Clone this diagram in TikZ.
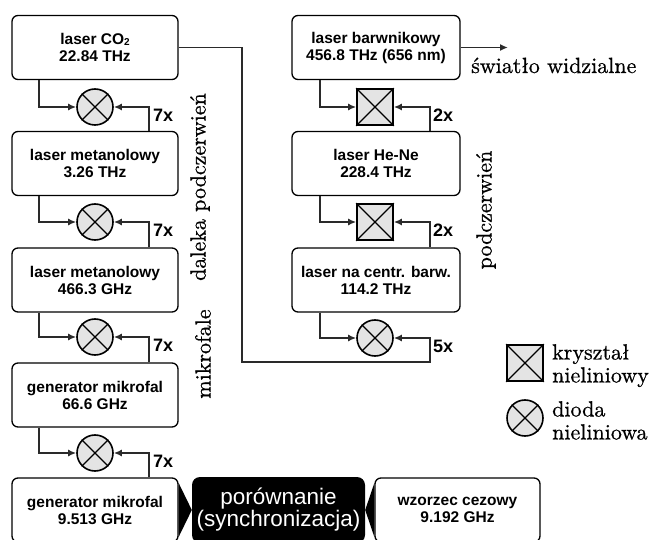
\documentclass[tikz,border=0pt]{standalone}
\usepackage{fontspec}
\setsansfont{Liberation Sans}
\newfontfamily\serifx{lmroman10-regular}[Extension=.otf,FakeBold=0.7]
\usetikzlibrary{calc,arrows.meta}
\definecolor{ln}{HTML}{2A2A2A}
\definecolor{mixfill}{HTML}{E4E4E4}
\tikzset{
  box/.style={draw=black, line width=1.3pt, rounded corners=6pt, minimum width=166pt, minimum height=64pt, align=center, inner sep=0pt, font=\sffamily\bfseries\fontsize{15.5}{17}\selectfont},
  conn/.style={draw=ln, line width=1.8pt, -{Latex[length=8pt,width=7pt]}},
  diode/.style={circle, draw=black, fill=mixfill, line width=1.6pt, minimum size=36pt, inner sep=0pt},
  crystal/.style={rectangle, draw=black, fill=mixfill, line width=1.6pt, minimum size=36pt, inner sep=0pt},
  mult/.style={font=\sffamily\bfseries\fontsize{18}{18}\selectfont, inner sep=0pt, anchor=west},
  serif/.style={font=\serifx\fontsize{22}{23}\selectfont, inner sep=0pt},
  crossline/.style={line width=1.4pt, draw=black},
}
\begin{document}
\begin{tikzpicture}[x=1pt,y=-1pt]
\useasboundingbox (0,0) rectangle (651,540);
\clip (0,0) rectangle (651,540);
% left column boxes
\node[box] (L1) at (95,47.5) {laser CO\raisebox{-0.5pt}{\fontsize{10}{10}\selectfont 2}\\22.84 THz};
\node[box] (L2) at (95,163.5) {laser metanolowy\\3.26 THz};
\node[box] (L3) at (95,280) {laser metanolowy\\466.3 GHz};
\node[box] (L4) at (95,395) {generator mikrofal\\66.6 GHz};
\node[box] (L5) at (95,510) {generator mikrofal\\9.513 GHz};
% right column boxes
\node[box, minimum width=168pt] (R1) at (376,47.5) {laser barwnikowy\\456.8 THz (656 nm)};
\node[box, minimum width=168pt] (R2) at (376,163.5) {laser He-Ne\\228.4 THz};
\node[box, minimum width=168pt] (R3) at (376,280) {laser na centr. barw.\\114.2 THz};
\node[box, minimum width=165pt] (CS) at (457.5,510) {wzorzec cezowy\\9.192 GHz};
% comparison
\node[fill=black, rounded corners=8pt, minimum width=173pt, minimum height=66pt, text=white, align=center, inner sep=0pt, font=\sffamily\fontsize{22.5}{22}\selectfont] (CMP) at (278.5,510) {porównanie\\(synchronizacja)};
\fill[black] ($(L5.east)+(0,-27)$) -- (CMP.west) -- ($(L5.east)+(0,27)$) -- cycle;
\fill[black] ($(CS.west)+(0,-27)$) -- (CMP.east) -- ($(CS.west)+(0,27)$) -- cycle;
% mixers
\node[diode] (M1) at (95,107) {};
\node[diode] (M2) at (95,222) {};
\node[diode] (M3) at (95,337) {};
\node[diode] (M4) at (95,453) {};
\node[crystal] (S1) at (375,107) {};
\node[crystal] (S2) at (375,222) {};
\node[diode] (M5) at (375,338) {};
\node[crystal] (LS) at (525,363) {};
\node[diode] (LC) at (525,418) {};
\foreach \m in {M1,M2,M3,M4,M5,LC}
  \draw[crossline] (\m.45) -- (\m.225) (\m.135) -- (\m.315);
\foreach \m in {S1,S2,LS}
  \draw[crossline] (\m.north west) -- (\m.south east) (\m.north east) -- (\m.south west);
% left connectors
\draw[conn] ($(L1.south west)+(28,0)$) |- (M1.west);
\draw[conn] ($(L2.north west)+(138,0)$) |- (M1.east);
\draw[conn] ($(L2.south west)+(28,0)$) |- (M2.west);
\draw[conn] ($(L3.north west)+(138,0)$) |- (M2.east);
\draw[conn] ($(L3.south west)+(28,0)$) |- (M3.west);
\draw[conn] ($(L4.north west)+(138,0)$) |- (M3.east);
\draw[conn] ($(L4.south west)+(28,0)$) |- (M4.west);
\draw[conn] ($(L5.north west)+(138,0)$) |- (M4.east);
\node[mult] (k1) at (153,115) {7x};
\node[mult] (k2) at (153,230) {7x};
\node[mult] (k3) at (153,345) {7x};
\node[mult] (k4) at (153,461) {7x};
% right connectors
\draw[conn] ($(R1.south west)+(29,0)$) |- (S1.west);
\draw[conn] ($(R2.north west)+(139,0)$) |- (S1.east);
\draw[conn] ($(R2.south west)+(29,0)$) |- (S2.west);
\draw[conn] ($(R3.north west)+(139,0)$) |- (S2.east);
\draw[conn] ($(R3.south west)+(29,0)$) |- (M5.west);
\coordinate (c1) at (242,362);
\coordinate (c2) at (430,362);
\draw[conn] (L1.east) -| (c1) -- (c2) |- (M5.east);
\node[mult] (k5) at (433,115) {2x};
\node[mult] (k6) at (433,230) {2x};
\node[mult] (k7) at (433,346) {5x};
% visible light
\coordinate (vend) at (508,47.5);
\draw[conn] (R1.east) -- (vend);
\node[serif, anchor=base west] (vis) at (471,73) {światło widzialne};
% region labels
\node[serif, rotate=90] (dp) at (200,187) {daleka podczerwień};
\node[serif, rotate=90] (mf) at (203,354) {mikrofale};
\node[serif, rotate=90] (pc) at (486,210) {podczerwień};
% legend
\node[serif, anchor=north west, align=left] (t1) at (552,344) {kryształ\\nieliniowy};
\node[serif, anchor=north west, align=left] (t2) at (552,401) {dioda\\nieliniowa};
\end{tikzpicture}
\end{document}
